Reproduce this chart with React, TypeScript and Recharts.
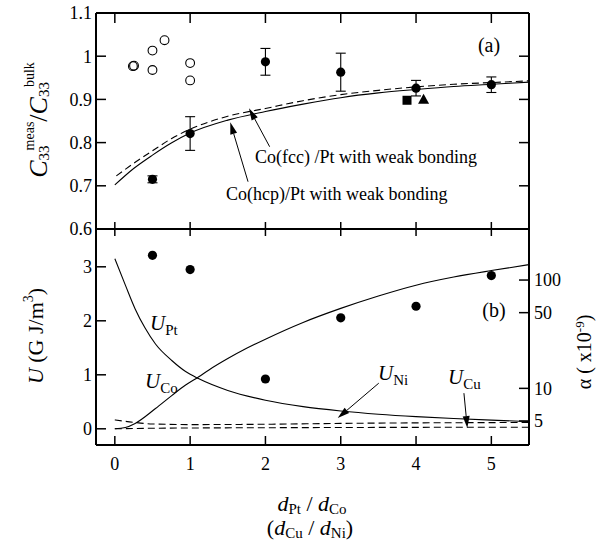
import React from 'react';
import { ComposedChart, Line, Scatter, XAxis, YAxis, ErrorBar, ReferenceLine } from 'recharts';

const FONT = "'Liberation Serif', 'DejaVu Serif', 'Times New Roman', Times, serif";

// ---------- ticks ----------
const xTicks = [0, 1, 2, 3, 4, 5];
const topYTicks = [0.6, 0.7, 0.8, 0.9, 1.0, 1.1];
const uTicks = [0, 1, 2, 3];
const alphaTicks = [5, 10, 50, 100];

// ---------- panel (a) data ----------
const openCircles = [
  { x: 0.24, y: 0.977 },
  { x: 0.255, y: 0.978 },
  { x: 0.5, y: 1.013 },
  { x: 0.5, y: 0.968 },
  { x: 0.66, y: 1.037 },
  { x: 1.0, y: 0.984 },
  { x: 1.0, y: 0.944 },
];
const measured = [
  { x: 0.5, y: 0.715, err: 0.008 },
  { x: 1.0, y: 0.821, err: 0.039 },
  { x: 2.0, y: 0.987, err: 0.031 },
  { x: 3.0, y: 0.963, err: 0.044 },
  { x: 4.0, y: 0.926, err: 0.018 },
  { x: 5.0, y: 0.934, err: 0.018 },
];
const squares = [{ x: 3.88, y: 0.898 }];
const triangles = [{ x: 4.1, y: 0.899 }];
const hcpCurve = [
  { x: 0, y: 0.702 }, { x: 0.25, y: 0.74 }, { x: 0.5, y: 0.771 }, { x: 0.75, y: 0.799 },
  { x: 1, y: 0.822 }, { x: 1.5, y: 0.852 }, { x: 2, y: 0.872 }, { x: 2.5, y: 0.889 },
  { x: 3, y: 0.904 }, { x: 3.5, y: 0.915 }, { x: 4, y: 0.923 }, { x: 4.5, y: 0.930 },
  { x: 5, y: 0.935 }, { x: 5.5, y: 0.940 },
];
const fccCurve = [
  { x: 0.02, y: 0.723 }, { x: 0.25, y: 0.752 }, { x: 0.5, y: 0.781 }, { x: 0.75, y: 0.809 },
  { x: 1, y: 0.831 }, { x: 1.5, y: 0.861 }, { x: 2, y: 0.879 }, { x: 2.5, y: 0.897 },
  { x: 3, y: 0.911 }, { x: 3.5, y: 0.921 }, { x: 4, y: 0.929 }, { x: 4.5, y: 0.935 },
  { x: 5, y: 0.939 }, { x: 5.5, y: 0.943 },
];

// ---------- panel (b) data ----------
const alphaPoints = [
  { x: 0.5, y: 169 },
  { x: 1.0, y: 125 },
  { x: 2.0, y: 12.2 },
  { x: 3.0, y: 44.8 },
  { x: 4.0, y: 57.3 },
  { x: 5.0, y: 110 },
];
const uPt = [
  { x: 0, y: 3.15 }, { x: 0.14, y: 2.66 }, { x: 0.27, y: 2.22 }, { x: 0.4, y: 1.87 },
  { x: 0.54, y: 1.57 }, { x: 0.76, y: 1.26 }, { x: 0.94, y: 1.06 }, { x: 1.11, y: 0.93 },
  { x: 1.5, y: 0.71 }, { x: 2, y: 0.53 }, { x: 2.5, y: 0.41 }, { x: 3, y: 0.33 },
  { x: 3.5, y: 0.27 }, { x: 4, y: 0.225 }, { x: 4.5, y: 0.19 }, { x: 5, y: 0.16 }, { x: 5.5, y: 0.135 },
];
const uCo = [
  { x: 0, y: 0 }, { x: 0.14, y: 0.025 }, { x: 0.27, y: 0.10 }, { x: 0.54, y: 0.375 },
  { x: 0.76, y: 0.62 }, { x: 0.94, y: 0.81 }, { x: 1.11, y: 0.96 }, { x: 1.25, y: 1.09 },
  { x: 1.5, y: 1.30 }, { x: 1.75, y: 1.49 }, { x: 2, y: 1.66 }, { x: 2.5, y: 1.97 },
  { x: 3, y: 2.23 }, { x: 3.5, y: 2.46 }, { x: 4, y: 2.66 }, { x: 4.5, y: 2.81 },
  { x: 5, y: 2.93 }, { x: 5.5, y: 3.04 },
];
const uNi = [
  { x: 0, y: 0.165 }, { x: 0.25, y: 0.12 }, { x: 0.5, y: 0.09 }, { x: 1, y: 0.078 },
  { x: 2, y: 0.084 }, { x: 3, y: 0.10 }, { x: 4, y: 0.11 }, { x: 5, y: 0.115 }, { x: 5.5, y: 0.117 },
];
const uCu = [
  { x: 0, y: 0.0 }, { x: 0.5, y: 0.01 }, { x: 1, y: 0.015 }, { x: 2, y: 0.02 },
  { x: 3, y: 0.024 }, { x: 4, y: 0.027 }, { x: 5.5, y: 0.03 },
];

// ---------- annotation arrows (data coordinates) ----------
const arrowFcc = [{ x: 2.056, y: 0.7905 }, { x: 1.782, y: 0.8794 }];
const arrowHcp = [{ x: 1.769, y: 0.7095 }, { x: 1.533, y: 0.847 }];
const arrowNi = [{ x: 3.505, y: 0.845 }, { x: 2.96, y: 0.198 }];
const arrowCu = [{ x: 4.636, y: 0.66 }, { x: 4.681, y: 0.013 }];

const tickStyle = { fontFamily: FONT, fontSize: 18, fill: '#000', style: { fontFamily: FONT } };
const axisLineStyle = { stroke: '#000', strokeWidth: 2 };
const tickLineStyle = { stroke: '#000', strokeWidth: 1.5 };
const noLabel = () => <g />;

const Arrow = (props: any) => {
  const { x1, y1, x2, y2 } = props;
  const dx = x2 - x1;
  const dy = y2 - y1;
  const len = Math.hypot(dx, dy) || 1;
  const ux = dx / len;
  const uy = dy / len;
  const hl = 12;
  const hw = 3.5;
  const bx = x2 - ux * hl;
  const by = y2 - uy * hl;
  const px = -uy;
  const py = ux;
  return (
    <g>
      <line x1={x1} y1={y1} x2={bx} y2={by} stroke="#000" strokeWidth={1} />
      <polygon points={`${x2},${y2} ${bx + px * hw},${by + py * hw} ${bx - px * hw},${by - py * hw}`} fill="#000" />
    </g>
  );
};

const FilledDot = (p: any) => <circle cx={p.cx} cy={p.cy} r={4.6} fill="#000" />;
const OpenDot = (p: any) => <circle cx={p.cx} cy={p.cy} r={4.4} fill="none" stroke="#000" strokeWidth={1.1} />;
const SquareDot = (p: any) => <rect x={p.cx - 4.5} y={p.cy - 4.5} width={9} height={9} fill="#000" />;
const TriDot = (p: any) => (
  <polygon points={`${p.cx},${p.cy - 6} ${p.cx + 5.5},${p.cy + 4} ${p.cx - 5.5},${p.cy + 4}`} fill="#000" />
);

const fmtTop = (v: number) => (Math.abs(v - 1) < 1e-9 ? '1' : v.toFixed(1));

export default function App() {
  return (
    <div style={{ position: 'absolute', left: 0, top: 0, width: 608, height: 542, background: '#fff', fontFamily: FONT }}>
      {/* Panel (a) */}
      <div style={{ position: 'absolute', left: 0, top: 0 }}>
        <ComposedChart width={608} height={240} margin={{ top: 3, right: 29, bottom: 1, left: 46 }}>
          <XAxis xAxisId="t" orientation="top" type="number" dataKey="x" domain={[-0.25, 5.5]} ticks={xTicks}
            allowDataOverflow height={10} tickSize={-10} tick={noLabel} axisLine={axisLineStyle} tickLine={tickLineStyle} />
          <XAxis xAxisId="b" orientation="bottom" type="number" dataKey="x" domain={[-0.25, 5.5]} ticks={xTicks}
            allowDataOverflow height={10} tickSize={-7} tick={noLabel} axisLine={axisLineStyle} tickLine={tickLineStyle} />
          <YAxis yAxisId="l" orientation="left" type="number" dataKey="y" domain={[0.6, 1.1]} ticks={topYTicks}
            allowDataOverflow width={50} tickSize={-10} tickMargin={14} tick={tickStyle} tickFormatter={fmtTop}
            axisLine={axisLineStyle} tickLine={tickLineStyle} />
          <YAxis yAxisId="r" orientation="right" type="number" dataKey="y" domain={[0.6, 1.1]} ticks={topYTicks}
            allowDataOverflow width={50} tickSize={-10} tick={noLabel} axisLine={axisLineStyle} tickLine={tickLineStyle} />
          <Line xAxisId="b" yAxisId="l" data={hcpCurve} dataKey="y" type="monotone" dot={false} stroke="#000"
            strokeWidth={1.1} isAnimationActive={false} />
          <Line xAxisId="b" yAxisId="l" data={fccCurve} dataKey="y" type="monotone" dot={false} stroke="#000"
            strokeWidth={1.1} strokeDasharray="7 4" isAnimationActive={false} />
          <Scatter xAxisId="b" yAxisId="l" data={openCircles} dataKey="y" shape={OpenDot} isAnimationActive={false} />
          <Scatter xAxisId="b" yAxisId="l" data={measured} dataKey="y" shape={FilledDot} isAnimationActive={false}>
            <ErrorBar dataKey="err" direction="y" width={5} stroke="#000" strokeWidth={1.1} isAnimationActive={false} />
          </Scatter>
          <Scatter xAxisId="b" yAxisId="l" data={squares} dataKey="y" shape={SquareDot} isAnimationActive={false} />
          <Scatter xAxisId="b" yAxisId="l" data={triangles} dataKey="y" shape={TriDot} isAnimationActive={false} />
          <ReferenceLine xAxisId="b" yAxisId="l" segment={arrowFcc} ifOverflow="visible" shape={Arrow} />
          <ReferenceLine xAxisId="b" yAxisId="l" segment={arrowHcp} ifOverflow="visible" shape={Arrow} />
        </ComposedChart>
      </div>

      {/* Panel (b) */}
      <div style={{ position: 'absolute', left: 0, top: 219 }}>
        <ComposedChart width={608} height={323} margin={{ top: 0, right: 29, bottom: 87, left: 46 }}>
          <XAxis xAxisId="t" orientation="top" type="number" dataKey="x" domain={[-0.25, 5.5]} ticks={xTicks}
            allowDataOverflow height={10} tickSize={-7} tick={noLabel} axisLine={axisLineStyle} tickLine={tickLineStyle} />
          <XAxis xAxisId="b" orientation="bottom" type="number" dataKey="x" domain={[-0.25, 5.5]} ticks={xTicks}
            allowDataOverflow height={10} tickSize={-9} tickMargin={21} tick={tickStyle}
            axisLine={axisLineStyle} tickLine={tickLineStyle} />
          <YAxis yAxisId="l" orientation="left" type="number" dataKey="y" domain={[-0.3, 3.7]} ticks={uTicks}
            allowDataOverflow width={50} tickSize={-10} tickMargin={14} tick={tickStyle}
            axisLine={axisLineStyle} tickLine={tickLineStyle} />
          <YAxis yAxisId="r" orientation="right" type="number" scale="log" dataKey="y" domain={[3, 296]} ticks={alphaTicks}
            allowDataOverflow width={50} tickSize={-10} tickMargin={15} tick={tickStyle}
            axisLine={axisLineStyle} tickLine={tickLineStyle} />
          <Line xAxisId="b" yAxisId="l" data={uPt} dataKey="y" type="monotone" dot={false} stroke="#000"
            strokeWidth={1.1} isAnimationActive={false} />
          <Line xAxisId="b" yAxisId="l" data={uCo} dataKey="y" type="monotone" dot={false} stroke="#000"
            strokeWidth={1.1} isAnimationActive={false} />
          <Line xAxisId="b" yAxisId="l" data={uNi} dataKey="y" type="monotone" dot={false} stroke="#000"
            strokeWidth={1.1} strokeDasharray="7 4" isAnimationActive={false} />
          <Line xAxisId="b" yAxisId="l" data={uCu} dataKey="y" type="monotone" dot={false} stroke="#000"
            strokeWidth={1.1} strokeDasharray="7 4" isAnimationActive={false} />
          <Scatter xAxisId="b" yAxisId="r" data={alphaPoints} dataKey="y" shape={FilledDot} isAnimationActive={false} />
          <ReferenceLine xAxisId="b" yAxisId="l" segment={arrowNi} ifOverflow="visible" shape={Arrow} />
          <ReferenceLine xAxisId="b" yAxisId="l" segment={arrowCu} ifOverflow="visible" shape={Arrow} />
        </ComposedChart>
      </div>

      {/* Text overlay */}
      <svg width={608} height={542} style={{ position: 'absolute', left: 0, top: 0, pointerEvents: 'none', fontFamily: FONT }}
        fill="#000">
        <text transform="translate(47,120) rotate(-90)" textAnchor="middle" style={{ fontFamily: FONT }}>
          <tspan fontStyle="italic" fontSize={26}>C</tspan>
          <tspan fontSize={15} dy={2}>33</tspan>
          <tspan fontSize={14} dx={-5} dy={-15}>meas</tspan>
          <tspan fontSize={26} dy={13}>/</tspan>
          <tspan fontStyle="italic" fontSize={26}>C</tspan>
          <tspan fontSize={15} dy={2}>33</tspan>
          <tspan fontSize={14} dx={-5} dy={-15}>bulk</tspan>
        </text>
        <text transform="translate(43,336) rotate(-90)" textAnchor="middle" fontSize={22} style={{ fontFamily: FONT }}>
          <tspan fontStyle="italic">U</tspan>
          <tspan> (G J/m</tspan>
          <tspan fontSize={14} dy={-10}>3</tspan>
          <tspan dy={10}>)</tspan>
        </text>
        <text transform="translate(591,352) rotate(-90)" textAnchor="middle" fontSize={20} style={{ fontFamily: FONT }}>
          <tspan>α (  x10</tspan>
          <tspan fontSize={13} dy={-7}>-9</tspan>
          <tspan dy={7}>)</tspan>
        </text>
        <text x={312} y={511} textAnchor="middle" fontSize={22} style={{ fontFamily: FONT }}>
          <tspan fontStyle="italic">d</tspan>
          <tspan fontSize={15} dy={3}>Pt</tspan>
          <tspan dy={-3}> / </tspan>
          <tspan fontStyle="italic">d</tspan>
          <tspan fontSize={15} dy={3}>Co</tspan>
        </text>
        <text x={310} y={535} textAnchor="middle" fontSize={22} style={{ fontFamily: FONT }}>
          <tspan>(</tspan>
          <tspan fontStyle="italic">d</tspan>
          <tspan fontSize={15} dy={3}>Cu</tspan>
          <tspan dy={-3}> / </tspan>
          <tspan fontStyle="italic">d</tspan>
          <tspan fontSize={15} dy={3}>Ni</tspan>
          <tspan dy={-3}>)</tspan>
        </text>
        <text x={489} y={52} textAnchor="middle" fontSize={20} style={{ fontFamily: FONT }}>(a)</text>
        <text x={494} y={317} textAnchor="middle" fontSize={20} style={{ fontFamily: FONT }}>(b)</text>
        <text x={255} y={163} fontSize={18} style={{ fontFamily: FONT }}>Co(fcc) /Pt with weak bonding</text>
        <text x={226} y={200} fontSize={18} style={{ fontFamily: FONT }}>Co(hcp)/Pt with weak bonding</text>
        <text x={150} y={330} fontSize={21} style={{ fontFamily: FONT }}>
          <tspan fontStyle="italic">U</tspan>
          <tspan fontSize={15} dy={5}>Pt</tspan>
        </text>
        <text x={145} y={388} fontSize={21} style={{ fontFamily: FONT }}>
          <tspan fontStyle="italic">U</tspan>
          <tspan fontSize={15} dy={5}>Co</tspan>
        </text>
        <text x={378} y={380} fontSize={21} style={{ fontFamily: FONT }}>
          <tspan fontStyle="italic">U</tspan>
          <tspan fontSize={15} dy={5}>Ni</tspan>
        </text>
        <text x={448} y={384} fontSize={21} style={{ fontFamily: FONT }}>
          <tspan fontStyle="italic">U</tspan>
          <tspan fontSize={15} dy={5}>Cu</tspan>
        </text>
      </svg>
    </div>
  );
}
